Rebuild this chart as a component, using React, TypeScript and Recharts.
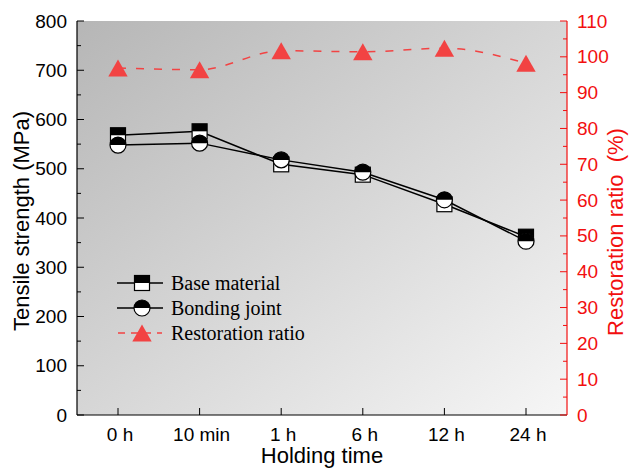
import { LineChart, Line, XAxis, YAxis, CartesianGrid } from 'recharts';

const categories = ['0 h', '10 min', '1 h', '6 h', '12 h', '24 h'];
const baseMaterial = [568, 576, 509, 488, 428, 362];
const bondingJoint = [548, 552, 518, 493, 437, 353];
const restorationRatio = [96.9, 96.4, 101.7, 101.4, 102.4, 98.2];
const leftTicks = [0, 50, 100, 150, 200, 250, 300, 350, 400, 450, 500, 550, 600, 650, 700, 750, 800];
const rightTicks = [0, 5, 10, 15, 20, 25, 30, 35, 40, 45, 50, 55, 60, 65, 70, 75, 80, 85, 90, 95, 100, 105, 110];

const data = categories.map((c, i) => ({
  time: c,
  base: baseMaterial[i],
  bond: bondingJoint[i],
  ratio: restorationRatio[i],
}));

const SANS = '"Liberation Sans", Arial, sans-serif';
const SERIF = '"Liberation Serif", "Times New Roman", serif';
const RED = '#f20f0f';
const TRI = '#f24343';

const SquareDot = ({ cx, cy }: any) => (
  <g>
    <rect x={cx - 7.5} y={cy - 7.5} width={15} height={15} fill="#fff" stroke="#000" strokeWidth={1.2} />
    <rect x={cx - 7.5} y={cy - 7.5} width={15} height={7.5} fill="#000" />
  </g>
);

const CircleDot = ({ cx, cy }: any) => (
  <g>
    <circle cx={cx} cy={cy} r={8} fill="#fff" stroke="#000" strokeWidth={1.2} />
    <path d={`M${cx - 8},${cy} A8,8 0 0 1 ${cx + 8},${cy} Z`} fill="#000" />
  </g>
);

const TriDot = ({ cx, cy }: any) => (
  <polygon points={`${cx},${cy - 8.5} ${cx - 9.7},${cy + 8.5} ${cx + 9.7},${cy + 8.5}`} fill={TRI} />
);

const LeftTick = ({ x, y, payload }: any) => {
  const major = payload.value % 100 === 0;
  return (
    <g>
      <line x1={x} x2={x + (major ? 7 : 4)} y1={y} y2={y} stroke="#000" strokeWidth={1} />
      {major && (
        <text x={x - 10} y={y} textAnchor="end" dominantBaseline="central" fontSize={19} fontFamily={SANS} fill="#000">
          {payload.value}
        </text>
      )}
    </g>
  );
};

const RightTick = ({ x, y, payload }: any) => {
  const major = payload.value % 10 === 0;
  return (
    <g>
      <line x1={x} x2={x - (major ? 7 : 4)} y1={y} y2={y} stroke={RED} strokeWidth={1} />
      {major && (
        <text x={x + 10} y={y} textAnchor="start" dominantBaseline="central" fontSize={19} fontFamily={SANS} fill={RED}>
          {payload.value}
        </text>
      )}
    </g>
  );
};

const BottomTick = ({ x, y, payload }: any) => (
  <g>
    <line x1={x} x2={x} y1={y} y2={y - 7} stroke="#000" strokeWidth={1} />
    <text x={x + 2} y={y + 26} textAnchor="middle" fontSize={19} fontFamily={SANS} fill="#000">
      {payload.value}
    </text>
  </g>
);

function LegendOverlay() {
  const rows = [
    { label: 'Base material', kind: 'square' },
    { label: 'Bonding joint', kind: 'circle' },
    { label: 'Restoration ratio', kind: 'tri' },
  ];
  return (
    <svg width={630} height={470} style={{ position: 'absolute', left: 0, top: 0, pointerEvents: 'none' }}>
      {rows.map((r, i) => {
        const y = 283 + i * 25;
        return (
          <g key={r.label}>
            {r.kind === 'tri' ? (
              <line x1={117} x2={162} y1={y} y2={y} stroke={TRI} strokeWidth={1.5} strokeDasharray="7 6" strokeDashoffset={-1} />
            ) : (
              <line x1={117} x2={163} y1={y} y2={y} stroke="#000" strokeWidth={1.5} />
            )}
            {r.kind === 'square' && <SquareDot cx={142} cy={y} />}
            {r.kind === 'circle' && <CircleDot cx={142} cy={y} />}
            {r.kind === 'tri' && <TriDot cx={142} cy={y} />}
            <text x={171} y={y + 7} fontSize={20} fontFamily={SERIF} fill="#000">
              {r.label}
            </text>
          </g>
        );
      })}
    </svg>
  );
}

export default function App() {
  return (
    <div style={{ position: 'absolute', left: 0, top: 0, width: 630, height: 470, background: '#fff' }}>
      <LineChart width={630} height={470} data={data} margin={{ top: 21, right: 0, left: 0, bottom: 0 }}>
        <defs>
          <linearGradient id="bgGrad" x1="0" y1="0" x2="1" y2="1">
            <stop offset="0%" stopColor="#b6b6b6" />
            <stop offset="100%" stopColor="#f6f6f6" />
          </linearGradient>
        </defs>
        <CartesianGrid fill="url(#bgGrad)" stroke="none" horizontal={false} vertical={false} />
        <XAxis
          dataKey="time"
          height={55}
          interval={0}
          padding={{ left: 41, right: 41 }}
          tickSize={0}
          tickMargin={0}
          tickLine={false}
          axisLine={{ stroke: '#000', strokeWidth: 1.2 }}
          tick={<BottomTick />}
          label={{
            content: () => (
              <text x={322} y={463} textAnchor="middle" fontSize={22} fontFamily={SANS} fill="#000">
                Holding time
              </text>
            ),
          }}
        />
        <XAxis xAxisId="top" orientation="top" dataKey="time" height={0} tick={false} tickLine={false} axisLine={{ stroke: '#000', strokeWidth: 1.2 }} />
        <YAxis
          yAxisId="left"
          width={77}
          domain={[0, 800]}
          ticks={leftTicks}
          interval={0}
          tickSize={0}
          tickMargin={0}
          tickLine={false}
          axisLine={{ stroke: '#000', strokeWidth: 1.2 }}
          tick={<LeftTick />}
          label={{
            content: () => (
              <text x={29} y={221} transform="rotate(-90 29 221)" textAnchor="middle" fontSize={22} fontFamily={SANS} fill="#000">
                Tensile strength (MPa)
              </text>
            ),
          }}
        />
        <YAxis
          yAxisId="right"
          orientation="right"
          width={63}
          domain={[0, 110]}
          ticks={rightTicks}
          interval={0}
          tickSize={0}
          tickMargin={0}
          tickLine={false}
          axisLine={{ stroke: RED, strokeWidth: 1.2 }}
          tick={<RightTick />}
          label={{
            content: () => (
              <text x={623} y={232} transform="rotate(-90 623 232)" textAnchor="middle" fontSize={22} fontFamily={SANS} fill={RED} style={{ whiteSpace: 'pre' }}>
                Restoration ratio  (%)
              </text>
            ),
          }}
        />
        <Line
          yAxisId="left"
          dataKey="base"
          stroke="#000"
          strokeWidth={1.5}
          isAnimationActive={false}
          dot={(p: any) => <SquareDot key={`s${p.index}`} {...p} />}
          activeDot={false}
        />
        <Line
          yAxisId="left"
          dataKey="bond"
          stroke="#000"
          strokeWidth={1.5}
          isAnimationActive={false}
          dot={(p: any) => <CircleDot key={`c${p.index}`} {...p} />}
          activeDot={false}
        />
        <Line
          yAxisId="right"
          type="monotone"
          dataKey="ratio"
          stroke={TRI}
          strokeWidth={1.5}
          strokeDasharray="8 10"
          isAnimationActive={false}
          dot={(p: any) => <TriDot key={`t${p.index}`} {...p} />}
          activeDot={false}
        />
      </LineChart>
      <LegendOverlay />
    </div>
  );
}
